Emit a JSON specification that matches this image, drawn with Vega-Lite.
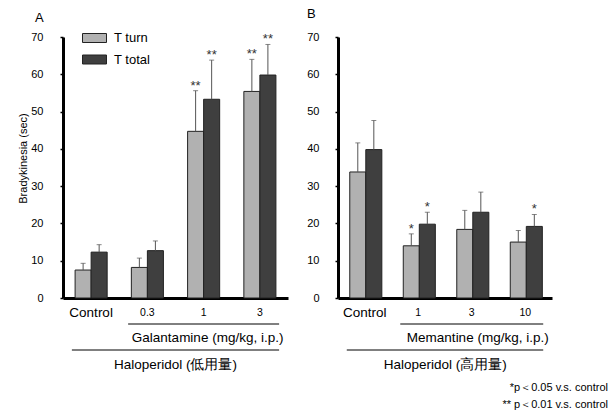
{
  "$schema": "https://vega.github.io/schema/vega-lite/v6.json",
  "padding": {"left": 17, "top": 8, "right": 2, "bottom": 2},
  "config": {"font": "Liberation Sans", "view": {"stroke": null}, "axis": {"grid": false}},
  "datasets": {
    "a": [
      {"group": "Control", "series": "T turn", "mean": 7.5, "upper": 9.3, "sig": ""},
      {"group": "Control", "series": "T total", "mean": 12.3, "upper": 14.3, "sig": ""},
      {"group": "0.3", "series": "T turn", "mean": 8.2, "upper": 10.7, "sig": ""},
      {"group": "0.3", "series": "T total", "mean": 12.7, "upper": 15.3, "sig": ""},
      {"group": "1", "series": "T turn", "mean": 44.7, "upper": 55.6, "sig": "**"},
      {"group": "1", "series": "T total", "mean": 53.3, "upper": 63.8, "sig": "**"},
      {"group": "3", "series": "T turn", "mean": 55.4, "upper": 64.0, "sig": "**"},
      {"group": "3", "series": "T total", "mean": 59.8, "upper": 68.0, "sig": "**"}
    ],
    "b": [
      {"group": "Control", "series": "T turn", "mean": 33.8, "upper": 41.6, "sig": ""},
      {"group": "Control", "series": "T total", "mean": 39.8, "upper": 47.6, "sig": ""},
      {"group": "1", "series": "T turn", "mean": 14.0, "upper": 17.2, "sig": "*"},
      {"group": "1", "series": "T total", "mean": 19.8, "upper": 23.0, "sig": "*"},
      {"group": "3", "series": "T turn", "mean": 18.4, "upper": 23.5, "sig": ""},
      {"group": "3", "series": "T total", "mean": 23.0, "upper": 28.4, "sig": ""},
      {"group": "10", "series": "T turn", "mean": 15.0, "upper": 18.1, "sig": ""},
      {"group": "10", "series": "T total", "mean": 19.2, "upper": 22.4, "sig": "*"}
    ],
    "notesA": [
      {"level": "drug", "from": "0.3", "to": "3", "at": "1", "label": "Galantamine (mg/kg, i.p.)"},
      {"level": "halo", "from": "Control", "to": "3", "at": "0.3", "label": "Haloperidol (低用量)"}
    ],
    "notesB": [
      {"level": "drug", "from": "1", "to": "10", "at": "3", "label": "Memantine (mg/kg, i.p.)"},
      {"level": "halo", "from": "Control", "to": "10", "at": "1", "label": "Haloperidol (高用量)"}
    ]
  },
  "title": {
    "text": ["*p＜0.05 v.s. control", "** p＜0.01 v.s. control"],
    "orient": "bottom", "anchor": "end", "fontSize": 11, "fontWeight": "normal",
    "lineHeight": 17, "dx": 56, "offset": 10, "color": "#000"
  },
  "spacing": 18,
  "resolve": {"scale": {"x": "independent", "y": "independent"}},
  "hconcat": [
    {
      "width": 225,
      "height": 261,
      "title": {"text": "A", "anchor": "start", "frame": "group", "dx": -28, "offset": 6, "fontSize": 13, "fontWeight": "normal", "color": "#000"},
      "resolve": {"scale": {"y": "independent"}, "axis": {"y": "independent"}},
      "layer": [
        {
          "data": {"name": "a"},
          "mark": {"type": "bar", "stroke": "#222", "strokeWidth": 1},
          "encoding": {
            "x": {"field": "group", "type": "nominal", "title": null, "scale": {"domain": ["Control", "0.3", "1", "3"], "paddingInner": 0.43, "paddingOuter": 0.215},
              "axis": {"domainWidth": 3, "domainColor": "#000", "ticks": false, "labelAngle": 0, "labelFontSize": {"condition": {"test": "datum.value === 'Control'", "value": 13.5}, "value": 10.5}, "labelPadding": 14, "labelBaseline": "middle", "labelColor": "#000"}},
            "xOffset": {"field": "series", "type": "nominal", "scale": {"domain": ["T turn", "T total"], "paddingInner": 0, "paddingOuter": 0}},
            "y": {
              "field": "mean", "type": "quantitative", "scale": {"domain": [0, 70]},
              "title": "Bradykinesia (sec)",
              "axis": {
                "values": [0, 10, 20, 30, 40, 50, 60, 70], "domainWidth": 3, "domainColor": "#000",
                "tickColor": "#000", "tickSize": 3, "tickWidth": 1.5, "labelFontSize": 11,
                "labelPadding": 17, "labelColor": "#000", "titleFontSize": 11,
                "titleFontWeight": "normal", "titlePadding": 2, "titleColor": "#000", "labelOverlap": false,
                "titleY": 121
              }
            },
            "color": {
              "field": "series", "type": "nominal",
              "scale": {"domain": ["T turn", "T total"], "range": ["#b1b1b1", "#3f3f3f"]},
              "legend": {
                "orient": "none", "legendX": 19, "legendY": -11.5, "title": null,
                "symbolType": "M-1,-0.375H1V0.375H-1Z", "symbolSize": 576,
                "symbolStrokeColor": "#222", "symbolStrokeWidth": 1,
                "labelFontSize": 13, "labelOffset": 7, "rowPadding": 1.5, "labelColor": "#000", "padding": 0
              }
            }
          }
        },
        {
          "data": {"name": "a"},
          "mark": {"type": "rule", "color": "#555", "strokeWidth": 1},
          "encoding": {
            "x": {"field": "group", "type": "nominal", "title": null, "scale": {"domain": ["Control", "0.3", "1", "3"], "paddingInner": 0.43, "paddingOuter": 0.215},
              "axis": {"domainWidth": 3, "domainColor": "#000", "ticks": false, "labelAngle": 0, "labelFontSize": {"condition": {"test": "datum.value === 'Control'", "value": 13.5}, "value": 10.5}, "labelPadding": 14, "labelBaseline": "middle", "labelColor": "#000"}},
            "xOffset": {"field": "series", "type": "nominal", "scale": {"domain": ["T turn", "T total"], "paddingInner": 0, "paddingOuter": 0}},
            "y": {"field": "mean", "type": "quantitative", "scale": {"domain": [0, 70]}, "axis": null},
            "y2": {"field": "upper"}
          }
        },
        {
          "data": {"name": "a"},
          "mark": {"type": "tick", "color": "#555", "size": 5, "thickness": 1},
          "encoding": {
            "x": {"field": "group", "type": "nominal", "title": null, "scale": {"domain": ["Control", "0.3", "1", "3"], "paddingInner": 0.43, "paddingOuter": 0.215},
              "axis": {"domainWidth": 3, "domainColor": "#000", "ticks": false, "labelAngle": 0, "labelFontSize": {"condition": {"test": "datum.value === 'Control'", "value": 13.5}, "value": 10.5}, "labelPadding": 14, "labelBaseline": "middle", "labelColor": "#000"}},
            "xOffset": {"field": "series", "type": "nominal", "scale": {"domain": ["T turn", "T total"], "paddingInner": 0, "paddingOuter": 0}},
            "y": {"field": "upper", "type": "quantitative", "scale": {"domain": [0, 70]}, "axis": null}
          }
        },
        {
          "data": {"name": "a"},
          "mark": {"type": "text", "fontSize": 13, "baseline": "alphabetic", "dy": -1, "color": "#333"},
          "encoding": {
            "x": {"field": "group", "type": "nominal", "title": null, "scale": {"domain": ["Control", "0.3", "1", "3"], "paddingInner": 0.43, "paddingOuter": 0.215},
              "axis": {"domainWidth": 3, "domainColor": "#000", "ticks": false, "labelAngle": 0, "labelFontSize": {"condition": {"test": "datum.value === 'Control'", "value": 13.5}, "value": 10.5}, "labelPadding": 14, "labelBaseline": "middle", "labelColor": "#000"}},
            "xOffset": {"field": "series", "type": "nominal", "scale": {"domain": ["T turn", "T total"], "paddingInner": 0, "paddingOuter": 0}},
            "y": {"field": "upper", "type": "quantitative", "scale": {"domain": [0, 70]}, "axis": null},
            "text": {"field": "sig"}
          }
        },
        {
          "data": {"name": "notesA"},
          "mark": {"type": "rule", "color": "#000", "strokeWidth": 1},
          "encoding": {
            "x": {"field": "from", "type": "nominal", "bandPosition": -0.1, "title": null, "scale": {"domain": ["Control", "0.3", "1", "3"], "paddingInner": 0.43, "paddingOuter": 0.215},
              "axis": {"domainWidth": 3, "domainColor": "#000", "ticks": false, "labelAngle": 0, "labelFontSize": {"condition": {"test": "datum.value === 'Control'", "value": 13.5}, "value": 10.5}, "labelPadding": 14, "labelBaseline": "middle", "labelColor": "#000"}},
            "x2": {"field": "to", "bandPosition": 1.1},
            "y": {"field": "level", "type": "nominal", "scale": {"type": "point", "domain": ["drug", "halo"], "range": [287, 313], "padding": 0}, "axis": null}
          }
        },
        {
          "data": {"name": "notesA"},
          "transform": [{"filter": "datum.level === 'drug'"}],
          "mark": {"type": "text", "fontSize": 13.5, "baseline": "middle", "dy": 14, "dx": 4, "color": "#000"},
          "encoding": {
            "x": {"field": "at", "type": "nominal", "bandPosition": 0.5, "title": null, "scale": {"domain": ["Control", "0.3", "1", "3"], "paddingInner": 0.43, "paddingOuter": 0.215},
              "axis": {"domainWidth": 3, "domainColor": "#000", "ticks": false, "labelAngle": 0, "labelFontSize": {"condition": {"test": "datum.value === 'Control'", "value": 13.5}, "value": 10.5}, "labelPadding": 14, "labelBaseline": "middle", "labelColor": "#000"}},
            "y": {"field": "level", "type": "nominal", "scale": {"type": "point", "domain": ["drug", "halo"], "range": [287, 313], "padding": 0}, "axis": null},
            "text": {"field": "label"}
          }
        },
        {
          "data": {"name": "notesA"},
          "transform": [{"filter": "datum.level === 'halo'"}],
          "mark": {"type": "text", "fontSize": 13.5, "baseline": "middle", "dy": 15, "dx": 12, "color": "#000"},
          "encoding": {
            "x": {"field": "at", "type": "nominal", "bandPosition": 1, "title": null, "scale": {"domain": ["Control", "0.3", "1", "3"], "paddingInner": 0.43, "paddingOuter": 0.215},
              "axis": {"domainWidth": 3, "domainColor": "#000", "ticks": false, "labelAngle": 0, "labelFontSize": {"condition": {"test": "datum.value === 'Control'", "value": 13.5}, "value": 10.5}, "labelPadding": 14, "labelBaseline": "middle", "labelColor": "#000"}},
            "y": {"field": "level", "type": "nominal", "scale": {"type": "point", "domain": ["drug", "halo"], "range": [287, 313], "padding": 0}, "axis": null},
            "text": {"field": "label"}
          }
        }
      ]
    },
    {
      "width": 214,
      "height": 261,
      "title": {"text": "B", "anchor": "start", "frame": "group", "dx": -31, "offset": 10, "fontSize": 13, "fontWeight": "normal", "color": "#000"},
      "resolve": {"scale": {"y": "independent"}, "axis": {"y": "independent"}},
      "layer": [
        {
          "data": {"name": "b"},
          "mark": {"type": "bar", "stroke": "#222", "strokeWidth": 1},
          "encoding": {
            "x": {"field": "group", "type": "nominal", "title": null, "scale": {"domain": ["Control", "1", "3", "10"], "paddingInner": 0.44, "paddingOuter": 0.22},
              "axis": {"domainWidth": 3, "domainColor": "#000", "ticks": false, "labelAngle": 0, "labelFontSize": {"condition": {"test": "datum.value === 'Control'", "value": 13.5}, "value": 10.5}, "labelPadding": 14, "labelBaseline": "middle", "labelColor": "#000"}},
            "xOffset": {"field": "series", "type": "nominal", "scale": {"domain": ["T turn", "T total"], "paddingInner": 0, "paddingOuter": 0}},
            "y": {
              "field": "mean", "type": "quantitative", "scale": {"domain": [0, 70]},
              "title": null,
              "axis": {
                "values": [0, 10, 20, 30, 40, 50, 60, 70], "domainWidth": 3, "domainColor": "#000",
                "tickColor": "#000", "tickSize": 3, "tickWidth": 1.5, "labelFontSize": 11,
                "labelPadding": 16, "labelColor": "#000", "labelOverlap": false
              }
            },
            "color": {
              "field": "series", "type": "nominal",
              "scale": {"domain": ["T turn", "T total"], "range": ["#b1b1b1", "#3f3f3f"]},
              "legend": null
            }
          }
        },
        {
          "data": {"name": "b"},
          "mark": {"type": "rule", "color": "#555", "strokeWidth": 1},
          "encoding": {
            "x": {"field": "group", "type": "nominal", "title": null, "scale": {"domain": ["Control", "1", "3", "10"], "paddingInner": 0.44, "paddingOuter": 0.22},
              "axis": {"domainWidth": 3, "domainColor": "#000", "ticks": false, "labelAngle": 0, "labelFontSize": {"condition": {"test": "datum.value === 'Control'", "value": 13.5}, "value": 10.5}, "labelPadding": 14, "labelBaseline": "middle", "labelColor": "#000"}},
            "xOffset": {"field": "series", "type": "nominal", "scale": {"domain": ["T turn", "T total"], "paddingInner": 0, "paddingOuter": 0}},
            "y": {"field": "mean", "type": "quantitative", "scale": {"domain": [0, 70]}, "axis": null},
            "y2": {"field": "upper"}
          }
        },
        {
          "data": {"name": "b"},
          "mark": {"type": "tick", "color": "#555", "size": 5, "thickness": 1},
          "encoding": {
            "x": {"field": "group", "type": "nominal", "title": null, "scale": {"domain": ["Control", "1", "3", "10"], "paddingInner": 0.44, "paddingOuter": 0.22},
              "axis": {"domainWidth": 3, "domainColor": "#000", "ticks": false, "labelAngle": 0, "labelFontSize": {"condition": {"test": "datum.value === 'Control'", "value": 13.5}, "value": 10.5}, "labelPadding": 14, "labelBaseline": "middle", "labelColor": "#000"}},
            "xOffset": {"field": "series", "type": "nominal", "scale": {"domain": ["T turn", "T total"], "paddingInner": 0, "paddingOuter": 0}},
            "y": {"field": "upper", "type": "quantitative", "scale": {"domain": [0, 70]}, "axis": null}
          }
        },
        {
          "data": {"name": "b"},
          "mark": {"type": "text", "fontSize": 13, "baseline": "alphabetic", "dy": -1, "color": "#333"},
          "encoding": {
            "x": {"field": "group", "type": "nominal", "title": null, "scale": {"domain": ["Control", "1", "3", "10"], "paddingInner": 0.44, "paddingOuter": 0.22},
              "axis": {"domainWidth": 3, "domainColor": "#000", "ticks": false, "labelAngle": 0, "labelFontSize": {"condition": {"test": "datum.value === 'Control'", "value": 13.5}, "value": 10.5}, "labelPadding": 14, "labelBaseline": "middle", "labelColor": "#000"}},
            "xOffset": {"field": "series", "type": "nominal", "scale": {"domain": ["T turn", "T total"], "paddingInner": 0, "paddingOuter": 0}},
            "y": {"field": "upper", "type": "quantitative", "scale": {"domain": [0, 70]}, "axis": null},
            "text": {"field": "sig"}
          }
        },
        {
          "data": {"name": "notesB"},
          "mark": {"type": "rule", "color": "#000", "strokeWidth": 1},
          "encoding": {
            "x": {"field": "from", "type": "nominal", "bandPosition": -0.1, "title": null, "scale": {"domain": ["Control", "1", "3", "10"], "paddingInner": 0.44, "paddingOuter": 0.22},
              "axis": {"domainWidth": 3, "domainColor": "#000", "ticks": false, "labelAngle": 0, "labelFontSize": {"condition": {"test": "datum.value === 'Control'", "value": 13.5}, "value": 10.5}, "labelPadding": 14, "labelBaseline": "middle", "labelColor": "#000"}},
            "x2": {"field": "to", "bandPosition": 1.1},
            "y": {"field": "level", "type": "nominal", "scale": {"type": "point", "domain": ["drug", "halo"], "range": [287, 313], "padding": 0}, "axis": null}
          }
        },
        {
          "data": {"name": "notesB"},
          "transform": [{"filter": "datum.level === 'drug'"}],
          "mark": {"type": "text", "fontSize": 13.5, "baseline": "middle", "dy": 14, "dx": 6, "color": "#000"},
          "encoding": {
            "x": {"field": "at", "type": "nominal", "bandPosition": 0.5, "title": null, "scale": {"domain": ["Control", "1", "3", "10"], "paddingInner": 0.44, "paddingOuter": 0.22},
              "axis": {"domainWidth": 3, "domainColor": "#000", "ticks": false, "labelAngle": 0, "labelFontSize": {"condition": {"test": "datum.value === 'Control'", "value": 13.5}, "value": 10.5}, "labelPadding": 14, "labelBaseline": "middle", "labelColor": "#000"}},
            "y": {"field": "level", "type": "nominal", "scale": {"type": "point", "domain": ["drug", "halo"], "range": [287, 313], "padding": 0}, "axis": null},
            "text": {"field": "label"}
          }
        },
        {
          "data": {"name": "notesB"},
          "transform": [{"filter": "datum.level === 'halo'"}],
          "mark": {"type": "text", "fontSize": 13.5, "baseline": "middle", "dy": 15, "dx": 12, "color": "#000"},
          "encoding": {
            "x": {"field": "at", "type": "nominal", "bandPosition": 1, "title": null, "scale": {"domain": ["Control", "1", "3", "10"], "paddingInner": 0.44, "paddingOuter": 0.22},
              "axis": {"domainWidth": 3, "domainColor": "#000", "ticks": false, "labelAngle": 0, "labelFontSize": {"condition": {"test": "datum.value === 'Control'", "value": 13.5}, "value": 10.5}, "labelPadding": 14, "labelBaseline": "middle", "labelColor": "#000"}},
            "y": {"field": "level", "type": "nominal", "scale": {"type": "point", "domain": ["drug", "halo"], "range": [287, 313], "padding": 0}, "axis": null},
            "text": {"field": "label"}
          }
        }
      ]
    }
  ]
}
